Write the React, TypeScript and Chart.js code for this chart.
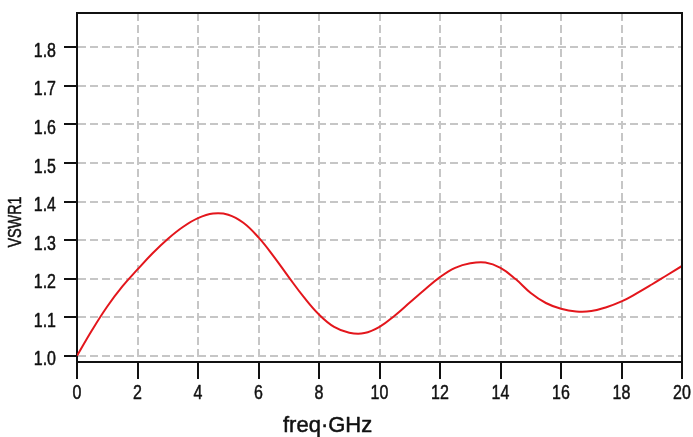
import React, { useEffect, useRef } from "react";
import { Chart, registerables } from "chart.js";

Chart.register(...registerables);

const freqGHz = [
  0, 0.5, 1, 1.5, 2, 2.5, 3, 3.5, 4, 4.5, 5, 5.5, 6, 6.5, 7, 7.5, 8, 8.5, 9, 9.5,
  10, 10.5, 11, 11.5, 12, 12.5, 13, 13.5, 14, 14.5, 15, 15.5, 16, 16.5, 17, 17.5,
  18, 18.5, 19, 19.5, 20,
];
const vswr1 = [
  1.0, 1.067, 1.128, 1.18, 1.224, 1.266, 1.303, 1.334, 1.357, 1.369, 1.366, 1.345,
  1.307, 1.258, 1.204, 1.152, 1.107, 1.075, 1.06, 1.059, 1.075, 1.104, 1.138, 1.172,
  1.204, 1.228, 1.24, 1.242, 1.228, 1.199, 1.163, 1.137, 1.122, 1.115, 1.116, 1.126,
  1.141, 1.162, 1.185, 1.209, 1.233,
];
const xTicks = [0, 2, 4, 6, 8, 10, 12, 14, 16, 18, 20];
const xTickLabels = ["0", "2", "4", "6", "8", "10", "12", "14", "16", "18", "20"];
const yTicks = [1.0, 1.1, 1.2, 1.3, 1.4, 1.5, 1.6, 1.7, 1.8];
const yTickLabels = ["1.0", "1.1", "1.2", "1.3", "1.4", "1.5", "1.6", "1.7", "1.8"];
const xTitle = "freq·GHz";
const yTitle = "VSWR1";

const FONT = '"Liberation Sans", Arial, sans-serif';
const NARROW = 0.8;

function heavyText(ctx: any, text: string, x: number, y: number) {
  ctx.fillText(text, x, y);
  ctx.strokeText(text, x, y);
}

const labelsPlugin = {
  id: "frameAndLabels",
  afterDraw(chart: any) {
    const { ctx, chartArea } = chart;
    const xs = chart.scales.x;
    const ys = chart.scales.y;
    ctx.save();
    ctx.strokeStyle = "#111";
    ctx.lineWidth = 2;
    ctx.beginPath();
    ctx.moveTo(chartArea.left, chartArea.top);
    ctx.lineTo(chartArea.right, chartArea.top);
    ctx.lineTo(chartArea.right, chartArea.bottom);
    ctx.stroke();

    ctx.fillStyle = "#111";
    ctx.strokeStyle = "#111";
    ctx.lineWidth = 0.5;
    ctx.lineJoin = "round";
    ctx.textBaseline = "alphabetic";
    ctx.font = "20px " + FONT;

    xTicks.forEach((v, i) => {
      ctx.save();
      ctx.translate(xs.getPixelForValue(v), chartArea.bottom + 37);
      ctx.scale(NARROW, 1);
      ctx.textAlign = "center";
      heavyText(ctx, xTickLabels[i], 0, 0);
      ctx.restore();
    });
    yTicks.forEach((v, i) => {
      ctx.save();
      ctx.translate(chartArea.left - 21, ys.getPixelForValue(v) + 9.5);
      ctx.scale(NARROW, 1);
      ctx.textAlign = "right";
      heavyText(ctx, yTickLabels[i], 0, 0);
      ctx.restore();
    });

    ctx.font = "22px " + FONT;
    ctx.textAlign = "left";
    heavyText(ctx, xTitle, 283, 432);

    ctx.save();
    ctx.translate(21, 222);
    ctx.rotate(-Math.PI / 2);
    ctx.scale(NARROW, 1);
    ctx.textAlign = "center";
    ctx.font = "18px " + FONT;
    heavyText(ctx, yTitle, 0, 0);
    ctx.restore();
    ctx.restore();
  },
};

export default function App() {
  const canvasRef = useRef<HTMLCanvasElement | null>(null);

  useEffect(() => {
    document.body.style.margin = "0";
    const canvas = canvasRef.current;
    if (!canvas) return;
    const chart = new Chart(canvas, {
      type: "line",
      data: {
        datasets: [
          {
            label: yTitle,
            data: freqGHz.map((x, i) => ({ x, y: vswr1[i] })),
            borderColor: "#e3161c",
            borderWidth: 2,
            pointRadius: 0,
            fill: false,
            tension: 0.4,
          },
        ],
      },
      options: {
        animation: false,
        responsive: true,
        maintainAspectRatio: false,
        layout: { padding: { top: 13, right: 11, left: 0, bottom: 0 } },
        plugins: {
          legend: { display: false },
          tooltip: { enabled: false },
          title: { display: false },
        },
        scales: {
          x: {
            type: "linear",
            min: 0,
            max: 20,
            afterBuildTicks: (scale: any) => {
              scale.ticks = xTicks.map((v) => ({ value: v }));
            },
            afterFit: (scale: any) => {
              scale.height = 75;
              scale.paddingLeft = 0;
              scale.paddingRight = 0;
            },
            ticks: { display: false, autoSkip: false },
            grid: {
              color: "#c6c6c6",
              lineWidth: 2,
              drawTicks: true,
              tickLength: 17,
              tickColor: "#111",
              tickWidth: 2,
              tickBorderDash: [],
            },
            border: { display: true, color: "#111", width: 2, dash: [8, 4] } as any,
          },
          y: {
            type: "linear",
            min: 0.984,
            max: 1.889,
            afterBuildTicks: (scale: any) => {
              scale.ticks = yTicks.map((v) => ({ value: v }));
            },
            afterFit: (scale: any) => {
              scale.width = 77;
              scale.paddingTop = 0;
              scale.paddingBottom = 0;
            },
            ticks: { display: false, autoSkip: false },
            grid: {
              color: "#c6c6c6",
              lineWidth: 2,
              drawTicks: true,
              tickLength: 13,
              tickColor: "#111",
              tickWidth: 2,
              tickBorderDash: [],
            },
            border: { display: true, color: "#111", width: 2, dash: [8, 4] } as any,
          },
        },
      },
      plugins: [labelsPlugin],
    });
    return () => chart.destroy();
  }, []);

  return (
    <div style={{ position: "relative", width: 693, height: 437 }}>
      <canvas ref={canvasRef} />
    </div>
  );
}
